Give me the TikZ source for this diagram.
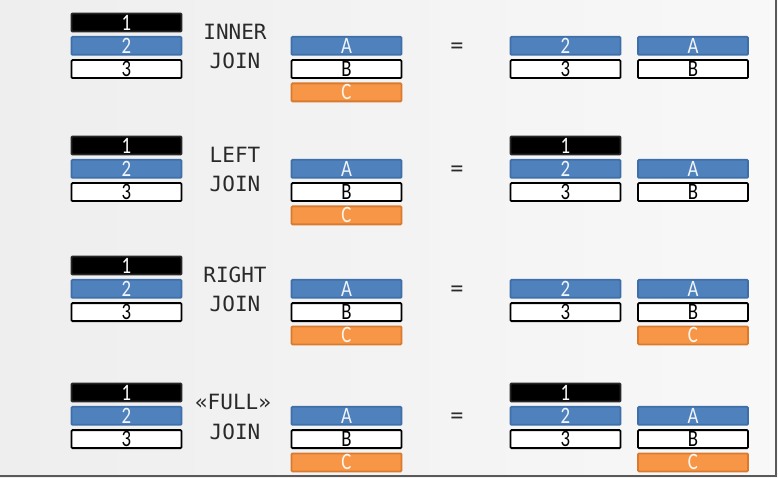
\documentclass[tikz,border=0pt]{standalone}
\usepackage{fontspec}
\usepackage{tikz}
\usepackage{xcolor}
\newfontfamily\cellfont[FakeStretch=0.8]{Carlito}
\newfontfamily\joinfont{DejaVu Sans Mono}
\definecolor{bgl}{HTML}{EEEEEE}
\definecolor{bgr}{HTML}{F8F8F8}
\definecolor{rowblue}{HTML}{4F81BD}
\definecolor{rowblueline}{HTML}{3F6FA8}
\definecolor{roworange}{HTML}{F79646}
\definecolor{roworangeline}{HTML}{D97A2E}
\definecolor{labelgray}{HTML}{2A2A2A}
\begin{document}
\begin{tikzpicture}[x=1pt,y=-1pt,
    cell/.style={rectangle, rounded corners=1pt, minimum width=110pt, minimum height=18pt, inner sep=0pt, line width=1.8pt, font=\cellfont\fontsize{23.5}{23.5}\selectfont},
    blk/.style={cell, fill=black, draw=black!85, text=white},
    blu/.style={cell, fill=rowblue, draw=rowblueline, text=white!92!rowblue},
    wht/.style={cell, fill=white, draw=black, text=black},
    org/.style={cell, fill=roworange, draw=roworangeline, text=white!90!roworange},
    joinlabel/.style={font=\joinfont\fontsize{21}{21}\selectfont, text=labelgray, inner sep=0pt}]
  \useasboundingbox (0,0) rectangle (778,478);
  \shade[left color=bgl, right color=bgr] (0,0) rectangle (778,478);
  \draw[black!65, line width=1.5pt] (776,0) -- (776,476) -- (0,476);

  \node[blk] (L11) at (126.5,22.5) {1};
  \node[blu] (L12) at (126.5,45.8) {2};
  \node[wht] (L13) at (126.5,69.1) {3};
  \node[joinlabel] (J1a) at (235,31.5) {INNER};
  \node[joinlabel] (J1b) at (235,60.5) {JOIN};
  \node[blu] (R1A) at (346.5,45.8) {A};
  \node[wht] (R1B) at (346.5,69.1) {B};
  \node[org] (R1C) at (346.5,92.4) {C};
  \node[joinlabel] (E1) at (457,47.5) {=};
  \node[blu] (S12) at (565.5,45.8) {2};
  \node[wht] (S13) at (565.5,69.1) {3};
  \node[blu] (T1A) at (693,45.8) {A};
  \node[wht] (T1B) at (693,69.1) {B};

  \node[blk] (L21) at (126.5,145.5) {1};
  \node[blu] (L22) at (126.5,168.8) {2};
  \node[wht] (L23) at (126.5,192.1) {3};
  \node[joinlabel] (J2a) at (235,154.5) {LEFT};
  \node[joinlabel] (J2b) at (235,183.5) {JOIN};
  \node[blu] (R2A) at (346.5,168.8) {A};
  \node[wht] (R2B) at (346.5,192.1) {B};
  \node[org] (R2C) at (346.5,215.4) {C};
  \node[joinlabel] (E2) at (457,170.5) {=};
  \node[blk] (S21) at (565.5,145.5) {1};
  \node[blu] (S22) at (565.5,168.8) {2};
  \node[wht] (S23) at (565.5,192.1) {3};
  \node[blu] (T2A) at (693,168.8) {A};
  \node[wht] (T2B) at (693,192.1) {B};

  \node[blk] (L31) at (126.5,265.5) {1};
  \node[blu] (L32) at (126.5,288.8) {2};
  \node[wht] (L33) at (126.5,312.1) {3};
  \node[joinlabel] (J3a) at (235,274.5) {RIGHT};
  \node[joinlabel] (J3b) at (235,303.5) {JOIN};
  \node[blu] (R3A) at (346.5,288.8) {A};
  \node[wht] (R3B) at (346.5,312.1) {B};
  \node[org] (R3C) at (346.5,335.4) {C};
  \node[joinlabel] (E3) at (457,290.5) {=};
  \node[blu] (S32) at (565.5,288.8) {2};
  \node[wht] (S33) at (565.5,312.1) {3};
  \node[blu] (T3A) at (693,288.8) {A};
  \node[wht] (T3B) at (693,312.1) {B};
  \node[org] (T3C) at (693,335.4) {C};

  \node[blk] (L41) at (126.5,392.5) {1};
  \node[blu] (L42) at (126.5,415.8) {2};
  \node[wht] (L43) at (126.5,439.1) {3};
  \node[joinlabel] (J4a) at (233,402) {«FULL»};
  \node[joinlabel] (J4b) at (235,432) {JOIN};
  \node[blu] (R4A) at (346.5,415.8) {A};
  \node[wht] (R4B) at (346.5,439.1) {B};
  \node[org] (R4C) at (346.5,462.4) {C};
  \node[joinlabel] (E4) at (457,417.5) {=};
  \node[blk] (S41) at (565.5,392.5) {1};
  \node[blu] (S42) at (565.5,415.8) {2};
  \node[wht] (S43) at (565.5,439.1) {3};
  \node[blu] (T4A) at (693,415.8) {A};
  \node[wht] (T4B) at (693,439.1) {B};
  \node[org] (T4C) at (693,462.4) {C};
\end{tikzpicture}
\end{document}
